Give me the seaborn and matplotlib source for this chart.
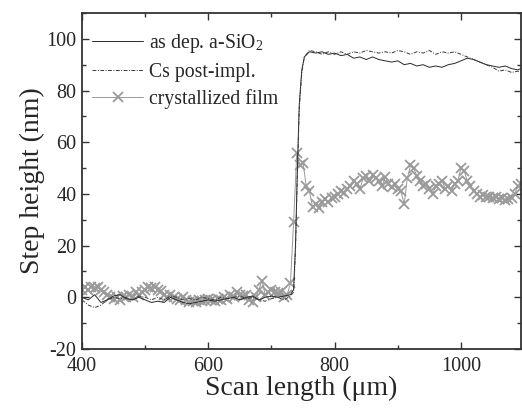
import numpy as np
import pandas as pd
import matplotlib
matplotlib.use("Agg")
import matplotlib.pyplot as plt
from matplotlib.ticker import MultipleLocator
import seaborn as sns

# ---- data ----
line_x = [400, 410, 420, 430, 440, 450, 460, 470, 480, 490, 500, 510, 520, 530, 540,
          550, 560, 570, 580, 590, 600, 610, 620, 630, 640, 650, 660, 670, 680, 690,
          700, 710, 720, 730, 735, 738, 741, 744, 748, 752, 760, 770, 780, 790, 800,
          810, 820, 830, 840, 850, 860, 870, 880, 890, 900, 910, 920, 930, 940, 950,
          960, 970, 980, 990, 1000, 1010, 1020, 1030, 1040, 1050, 1060, 1070, 1080,
          1090, 1095]
asdep_y = [0, -1, 1, -2, -1, 0.5, 1, -0.5, -1, 0, -1, -2, -1.5, -2, 0,
           -1, -2, -2.5, -2, -1.5, -1, -1.5, -1, -0.5, 0, -1, 0, 0.5, -1, 0,
           0.5, 0, 0.5, 1, 3, 20, 50, 75, 88, 93, 95, 94.5, 95, 94, 94.5,
           93.5, 94, 92.5, 93, 92, 93, 92, 91.5, 91, 91.5, 90, 90.5, 89.5, 90, 89,
           89.5, 89, 90, 90.5, 91.5, 92.5, 92, 91, 90, 89.5, 89, 89.5, 88.5,
           88, 88.5]
cs_y = [-1, -3, -4, -3, -1, 0, -0.5, 0, -1, 0.5, 0, -1, 0, -1, 0.5,
        0, -1, -0.5, -1, 0, -0.5, -1, 0, -0.5, 0, 0.5, -0.5, 0, -1, -1.5,
        -0.5, 0, -1, 0.5, 2, 18, 48, 73, 87, 93, 95.5, 95, 94, 95, 94,
        95, 94, 95, 94.5, 95.5, 95, 94.5, 95, 94.5, 95.5, 95, 94, 95, 94.5, 95.5,
        94, 95, 94.5, 95, 94, 93, 92, 91, 90, 89, 87.5, 88, 87,
        87.5, 87]

cryst_x = list(range(400, 1100, 5))
cryst_y = [3, 4, 3, 4, 3.5, 4, 3, 2, 1, 0, -0.5, 0, -1, 0.5, 0, 1, 0, 2, 1, 2,
           3, 4, 3.5, 4, 3, 2.5, 1, 0, 1, 0, -0.5, -1, 0, -1, -2, -1.5, -2, -1, -1.5, -1,
           -0.5, -1, -1.5, -0.5, -1, 0, -0.5, 1, 0, 2, 1, 0.5, 1, -1, -2, 0, 3, 6.5, 1, 2,
           3, 2, 1.5, 2, 0, 1, 5.5, 29, 56, 51, 52, 43, 41, 35, 36, 34.5, 37, 38, 37, 38.5,
           39, 40, 41, 40.5, 42, 43, 45, 44, 42, 46, 47, 45, 47.5, 46, 45, 43, 46.5, 44, 42.5, 44,
           42, 41, 36, 46, 51, 50, 47, 45, 43, 44, 42, 40, 43, 44, 45, 42, 43, 41, 44, 45,
           50, 49, 45, 43, 41, 40, 39, 39.5, 39, 39, 38.5, 39, 38, 38.5, 37.5, 38, 38.5, 40, 43, 44]

labels = ["as dep. a-SiO$_\\mathregular{2}$", "Cs post-impl.", "crystallized film"]
x_ticks = [400, 600, 800, 1000]
y_ticks = [-20, 0, 20, 40, 60, 80, 100]

df_a = pd.DataFrame({"x": line_x, "y": asdep_y})
df_c = pd.DataFrame({"x": line_x, "y": cs_y})
df_k = pd.DataFrame({"x": cryst_x, "y": cryst_y})

sns.set_theme(style="ticks")
plt.rcParams["font.family"] = ["Liberation Serif", "DejaVu Serif"]
plt.rcParams["mathtext.fontset"] = "stix"
plt.rcParams["axes.unicode_minus"] = False

fig = plt.figure(figsize=(5.22, 4.09), dpi=100)
ax = fig.add_axes([82 / 522, 1 - 349 / 409, 439 / 522, 336 / 409])

gray = "#9a9a9a"
sns.lineplot(data=df_k, x="x", y="y", ax=ax, color=gray, lw=0.7,
             marker="x", markersize=7, markeredgewidth=1.3, markeredgecolor=gray,
             label=labels[2], zorder=2)
sns.lineplot(data=df_a, x="x", y="y", ax=ax, color="#2a2a2a", lw=0.7,
             label=labels[0], zorder=3)
sns.lineplot(data=df_c, x="x", y="y", ax=ax, color="#3a3a3a", lw=0.7,
             linestyle=(0, (4, 1.5, 1, 1.5)), label=labels[1], zorder=3)

ax.set_xlim(400, 1095)
ax.set_ylim(-20, 110)
ax.set_xticks(x_ticks)
ax.set_yticks(y_ticks)
ax.xaxis.set_minor_locator(MultipleLocator(100))
ax.yaxis.set_minor_locator(MultipleLocator(10))
ax.tick_params(which="both", direction="in", top=True, right=True, labelsize=14.5,
               color="#333333", width=1.0)
ax.tick_params(which="major", length=5)
ax.tick_params(which="minor", length=3)
ax.tick_params(axis="x", which="major", pad=6)
ax.tick_params(axis="y", which="major", pad=4)
for s in ax.spines.values():
    s.set_linewidth(1.3)
    s.set_color("#333333")

ax.set_xlabel("Scan length (μm)", fontsize=20, labelpad=0)
ax.set_ylabel("Step height (nm)", fontsize=20, labelpad=1)

handles, labs = ax.get_legend_handles_labels()
order = [labs.index(l) for l in labels]
ax.legend([handles[i] for i in order], [labs[i] for i in order],
          loc="upper left", frameon=False, fontsize=14.2, handlelength=2.6,
          handletextpad=0.3, labelspacing=0.4, borderaxespad=0.0,
          bbox_to_anchor=(0.005, 0.968))

fig.savefig("out.png", dpi=100)
